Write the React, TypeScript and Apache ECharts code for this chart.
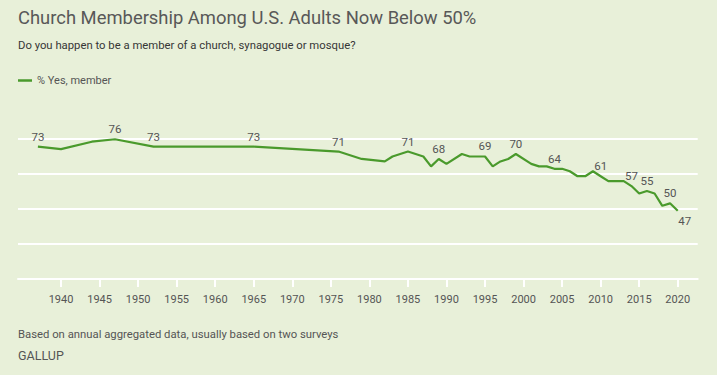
import React, { useEffect, useRef } from "react";
import * as echarts from "echarts";

const years = [
  1937, 1940, 1944, 1947, 1952, 1965, 1976, 1979, 1982, 1983, 1985, 1987, 1988, 1989, 1990,
  1992, 1993, 1995, 1996, 1997, 1998, 1999, 2001, 2002, 2003, 2004, 2005, 2006, 2007, 2008,
  2009, 2010, 2011, 2012, 2013, 2014, 2015, 2016, 2017, 2018, 2019, 2020,
];
const membership = [
  73, 72, 75, 76, 73, 73, 71, 68, 67, 69, 71, 69, 65, 68, 66,
  70, 69, 69, 65, 67, 68, 70, 66, 65, 65, 64, 64, 63, 61, 61,
  63, 61, 59, 59, 59, 57, 54, 55, 54, 49, 50, 47,
];
const labeledYears = [1937, 1947, 1952, 1965, 1976, 1985, 1989, 1995, 1999, 2004, 2010, 2014, 2016, 2019, 2020];
const tickYears = [1940, 1945, 1950, 1955, 1960, 1965, 1970, 1975, 1980, 1985, 1990, 1995, 2000, 2005, 2010, 2015, 2020];
const seriesName = "% Yes, member";
const titleText = "Church Membership Among U.S. Adults Now Below 50%";
const subtitleText = "Do you happen to be a member of a church, synagogue or mosque?";
const footnoteText = "Based on annual aggregated data, usually based on two surveys";
const sourceText = "GALLUP";

const BG = "#e8f0d9";
const GREEN = "#4a9a2c";
const FONT = "Roboto, 'Noto Sans', sans-serif";

export default function App() {
  const ref = useRef<HTMLDivElement>(null);
  useEffect(() => {
    if (!ref.current) return;
    const chart = echarts.init(ref.current, null, { renderer: "svg" });
    const last = years[years.length - 1];
    const data = years.map((y, i) => {
      const labeled = labeledYears.includes(y);
      const isLast = y === last;
      return {
        value: [y, membership[i]],
        label: labeled
          ? {
              show: true,
              position: isLast ? "bottom" : "top",
              offset: isLast ? [7, 0] : [0, 0],
            }
          : { show: false },
      };
    });
    chart.setOption({
      animation: false,
      backgroundColor: BG,
      textStyle: { fontFamily: FONT },
      graphic: [
        {
          type: "text",
          x: 18,
          y: 17.5,
          style: { text: titleText, fill: "#585858", fontSize: 18.4, fontFamily: FONT, verticalAlign: "middle" },
        },
        {
          type: "text",
          x: 18,
          y: 45,
          style: { text: subtitleText, fill: "#363636", fontSize: 11.3, fontFamily: FONT, verticalAlign: "middle" },
        },
        {
          type: "text",
          x: 18,
          y: 334,
          style: { text: footnoteText, fill: "#555555", fontSize: 11.3, fontFamily: FONT, verticalAlign: "middle" },
        },
        {
          type: "text",
          x: 18,
          y: 355,
          style: { text: sourceText, fill: "#555555", fontSize: 12.5, fontFamily: FONT, verticalAlign: "middle" },
        },
      ],
      legend: {
        left: 18,
        top: 75,
        padding: 0,
        itemWidth: 14,
        itemHeight: 2.5,
        itemGap: 10,
        data: [{ name: seriesName, icon: "rect" }],
        textStyle: { color: "#555555", fontSize: 11, fontFamily: FONT },
      },
      grid: { left: 18, right: 19.3, top: 139, height: 140, containLabel: false },
      xAxis: {
        type: "value",
        min: 1934.42,
        max: 2022.59,
        axisLine: { show: true, lineStyle: { color: "#ffffff", width: 2 } },
        axisTick: { show: true, length: 8, customValues: tickYears, lineStyle: { color: "#ffffff", width: 2 } },
        axisLabel: {
          show: true,
          customValues: tickYears,
          formatter: (v: number) => String(v),
          color: "#555555",
          fontSize: 11,
          margin: 15,
          fontFamily: FONT,
        },
        splitLine: { show: false },
      },
      yAxis: [
        {
          type: "value",
          min: 19.3,
          max: 76.1,
          axisLine: { show: false },
          axisTick: { show: false },
          axisLabel: { show: false },
          splitLine: { show: false },
        },
        {
          type: "value",
          min: 0,
          max: 4,
          interval: 1,
          position: "left",
          axisLine: { show: false },
          axisTick: { show: false },
          axisLabel: { show: false },
          splitLine: { show: true, lineStyle: { color: "#ffffff", width: 2 } },
        },
      ],
      series: [
        {
          name: seriesName,
          type: "line",
          yAxisIndex: 0,
          data,
          showSymbol: true,
          symbol: "circle",
          symbolSize: 0.01,
          itemStyle: { color: GREEN },
          lineStyle: { color: GREEN, width: 2.2 },
          label: { color: "#555555", fontSize: 11.5, distance: 4, fontFamily: FONT },
          emphasis: { disabled: true },
          z: 3,
        },
      ],
    });
    return () => chart.dispose();
  }, []);
  return (
    <div
      ref={ref}
      style={{ position: "fixed", left: 0, top: 0, width: 717, height: 375, background: BG }}
    />
  );
}
